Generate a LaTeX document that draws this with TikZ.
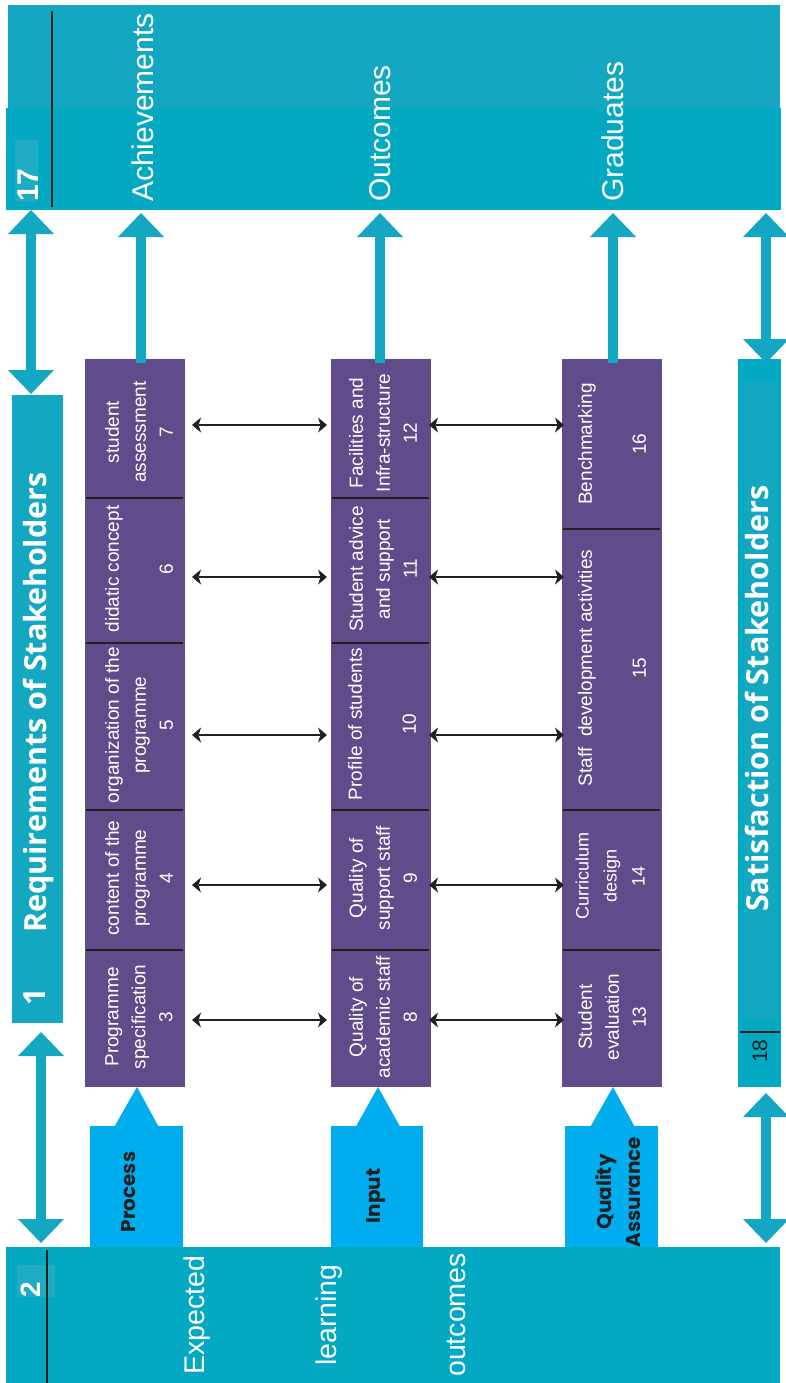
\documentclass[tikz,border=0pt]{standalone}
\usepackage{fontspec}
\setmainfont{Liberation Sans}
\newfontfamily\osans{Open Sans}
\newfontfamily\popp{Poppins}
\usetikzlibrary{arrows.meta,calc}
\definecolor{tealA}{HTML}{14A7C1}
\definecolor{tealB}{HTML}{03A9C3}
\definecolor{tealL}{HTML}{1FABC3}
\definecolor{cyanL}{HTML}{00AEEF}
\definecolor{purp}{HTML}{604C8A}
\definecolor{ink}{HTML}{231F20}
\tikzset{
  fat/.tip={Triangle[width=46pt 0 0,length=24pt 0 0,line width=0pt 0 0]},
  thn/.tip={Stealth[length=9pt 0 0,width=15pt 0 0,inset=2.5pt 0 0,line width=0pt 0 0]},
  bar/.style={rectangle, inner sep=0pt, outer sep=0pt, anchor=north west, draw=none},
  cell/.style={bar, fill=purp, minimum width=100pt},
  celltext/.style={rotate=90, align=center, text=white, inner sep=0pt, font=\fontsize{19}{27}\selectfont},
  bigtxt/.style={rotate=90, anchor=base west, inner sep=0pt, text=white, font=\fontsize{30}{36}\selectfont},
  elotxt/.style={rotate=90, anchor=base, inner sep=0pt, text=white, font=\fontsize{28.5}{34}\selectfont},
  stktxt/.style={rotate=90, anchor=base west, inner sep=0pt, text=white, font=\osans\bfseries\fontsize{30.5}{36}\selectfont},
  lbltxt/.style={rotate=90, inner sep=0pt, text=ink, align=center, font=\popp\bfseries\fontsize{20}{29}\selectfont},
  fatup/.style={draw=tealA, line width=10pt, -fat},
  fatdbl/.style={draw=tealA, line width=10pt, fat-fat},
  thinarr/.style={draw=ink, line width=1.6pt, thn-thn},
  divider/.style={draw=ink, line width=1.3pt},
  sepline/.style={draw=ink, line width=1.5pt},
}
\begin{document}
\begin{tikzpicture}[x=1pt,y=-1pt]
\useasboundingbox (0,0) rectangle (785,1383);
\fill[white] (0,0) rectangle (785,1383);

% ---------- top bar ----------
\node[bar, fill=tealA, minimum width=772pt, minimum height=104pt] (topA) at (8,5) {};
\node[bar, fill=tealB, minimum width=775pt, minimum height=102pt] (top) at (6,108) {};
\fill[tealL] (15,140) rectangle (38,202);
\draw[sepline] (52,11) -- (52,207);
\node[bigtxt, font=\bfseries\fontsize{30}{36}\selectfont] (n17) at (38,202) {17};
\node[bigtxt] (ach) at (153,202) {Achievements};
\node[bigtxt] (outc) at (390,202) {Outcomes};
\node[bigtxt] (grad) at (623,202) {Graduates};

% ---------- requirements bar ----------
\node[bar, fill=tealA, minimum width=51pt, minimum height=628pt] (req) at (12,395) {};
\node[stktxt] (reqt) at (46,933) {Requirements of Stakeholders};
\node[stktxt] (n1) at (45,1006) {1};

% ---------- satisfaction bar ----------
\node[bar, fill=tealB, minimum width=43pt, minimum height=728pt] (sat) at (738,359) {};
\node[bar, fill=tealA, minimum width=33pt, minimum height=638pt] (satin) at (744,382) {};
\draw[divider] (740,1032) -- (780,1032);
\node[stktxt] (satt) at (768,912) {Satisfaction of Stakeholders};
\node[rotate=90, anchor=base west, inner sep=0pt, text=ink, font=\fontsize{21}{24}\selectfont] (n18) at (767,1063) {18};

% ---------- bottom bar ----------
\node[bar, fill=tealB, minimum width=774pt, minimum height=136pt] (bot) at (6,1247) {};
\fill[tealL] (17,1265) rectangle (55,1297);
\draw[sepline] (47,1250) -- (47,1383);
\node[bigtxt, font=\bfseries\fontsize{28}{32}\selectfont] (n2) at (40,1298) {2};
\node[elotxt] (elo1) at (204,1315) {Expected};
\node[elotxt] (elo2) at (336,1315) {learning};
\node[elotxt] (elo3) at (465,1315) {outcomes};

% ---------- purple cells ----------
\node[cell, minimum height=139pt] (c7) at (85,359) {};
\node[cell, minimum height=145pt] (c6) at (85,498) {};
\node[cell, minimum height=167pt] (c5) at (85,643) {};
\node[cell, minimum height=140pt] (c4) at (85,810) {};
\node[cell, minimum height=137pt] (c3) at (85,950) {};
\node[cell, minimum height=139pt] (c12) at (331,359) {};
\node[cell, minimum height=145pt] (c11) at (331,498) {};
\node[cell, minimum height=167pt] (c10) at (331,643) {};
\node[cell, minimum height=140pt] (c9) at (331,810) {};
\node[cell, minimum height=137pt] (c8) at (331,950) {};
\node[cell, minimum height=170pt] (c16) at (562,359) {};
\node[cell, minimum height=281pt] (c15) at (562,529) {};
\node[cell, minimum height=140pt] (c14) at (562,810) {};
\node[cell, minimum height=137pt] (c13) at (562,950) {};

\foreach \c in {c7,c6,c5,c4,c12,c11,c10,c9,c16,c15,c14}
  \draw[divider] ([xshift=1pt]\c.south west) -- ([xshift=-2pt]\c.south east);

\node[celltext] (t7) at (139,432) {student\\assessment\\7};
\node[celltext] (t6) at (139,569) {didatic concept\\[27pt]6};
\node[celltext] (t5) at (139,725) {organization of the\\programme\\5};
\node[celltext] (t4) at (139,878) {content of the\\programme\\4};
\node[celltext] (t3) at (139,1017) {Programme\\specification\\3};
\node[celltext] (t12) at (383,433) {Facilities and\\Infra-structure\\12};
\node[celltext] (t11) at (383,569) {Student advice\\and support\\11};
\node[celltext] (t10) at (382,724) {Profile of students\\[27pt]10};
\node[celltext] (t9) at (383,878) {Quality of\\support staff\\9};
\node[celltext] (t8) at (383,1017) {Quality of\\academic staff\\8};
\node[celltext] (t16) at (612,444) {Benchmarking\\[27pt]16};
\node[celltext] (t15) at (612,668) {Staff~ development activities\\[27pt]15};
\node[celltext, font=\fontsize{18}{28}\selectfont] (t14) at (610,876) {Curriculum\\design\\14};
\node[celltext] (t13) at (612,1017) {Student\\evaluation\\13};

% ---------- label boxes ----------
\node[bar, fill=cyanL, minimum width=93pt, minimum height=121pt] (proc) at (90,1126) {};
\node[bar, fill=cyanL, minimum width=92pt, minimum height=121pt] (inp) at (331,1126) {};
\node[bar, fill=cyanL, minimum width=93pt, minimum height=121pt] (qa) at (565,1126) {};
\fill[cyanL] ($(proc.north)+(-22,0.5)$) -- ($(proc.north |- c3.south)+(0.5,0)$) -- ($(proc.north)+(22,0.5)$) -- cycle;
\fill[cyanL] ($(inp.north)+(-21,0.5)$) -- ($(inp.north |- c8.south)+(1,0)$) -- ($(inp.north)+(23,0.5)$) -- cycle;
\fill[cyanL] ($(qa.north)+(-21,0.5)$) -- ($(qa.north |- c13.south)+(1.5,0)$) -- ($(qa.north)+(23,0.5)$) -- cycle;
\node[lbltxt, anchor=base] (proct) at (135,1192) {Process};
\node[lbltxt, anchor=base] (inpt) at (380,1196) {Input};
\node[lbltxt] (qat) at (618,1192) {Quality\\Assurance};

% ---------- thin double arrows ----------
\coordinate (r1) at (0,425);
\coordinate (r2) at (0,577);
\coordinate (r3) at (0,735);
\coordinate (r4) at (0,885);
\coordinate (r5) at (0,1020);
\draw[thinarr] ($(c7.east |- r1)+(7,0)$) -- ($(c12.west |- r1)+(-4,0)$);
\draw[thinarr] ($(c6.east |- r2)+(7,0)$) -- ($(c11.west |- r2)+(-4,0)$);
\draw[thinarr] ($(c5.east |- r3)+(7,0)$) -- ($(c10.west |- r3)+(-4,0)$);
\draw[thinarr] ($(c4.east |- r4)+(7,0)$) -- ($(c9.west |- r4)+(-4,0)$);
\draw[thinarr] ($(c3.east |- r5)+(7,0)$) -- ($(c8.west |- r5)+(-4,0)$);
\draw[thinarr] ($(c12.east |- r1)+(-2,0)$) -- ($(c16.west |- r1)+(2,0)$);
\draw[thinarr] ($(c11.east |- r2)+(-2,0)$) -- ($(c15.west |- r2)+(2,0)$);
\draw[thinarr] ($(c10.east |- r3)+(-2,0)$) -- ($(c15.west |- r3)+(2,0)$);
\draw[thinarr] ($(c9.east |- r4)+(-2,0)$) -- ($(c14.west |- r4)+(2,0)$);
\draw[thinarr] ($(c8.east |- r5)+(-2,0)$) -- ($(c13.west |- r5)+(2,0)$);

% ---------- fat cyan arrows ----------
\coordinate (u1s) at (141,363); \coordinate (u1e) at (141,213);
\coordinate (u2s) at (380,363); \coordinate (u2e) at (380,213);
\coordinate (u3s) at (613,363); \coordinate (u3e) at (613,213);
\draw[fatup] (u1s) -- (u1e);
\draw[fatup] (u2s) -- (u2e);
\draw[fatup] (u3s) -- (u3e);
\coordinate (lt1) at (31,210); \coordinate (lt2) at (31,394);
\coordinate (lb1) at (41,1032); \coordinate (lb2) at (41,1243);
\coordinate (rt1) at (766,213); \coordinate (rt2) at (766,363);
\coordinate (rb1) at (766,1093); \coordinate (rb2) at (766,1243);
\draw[fatdbl] (lt1) -- (lt2);
\draw[fatdbl] (lb1) -- (lb2);
\draw[fatdbl] (rt1) -- (rt2);
\draw[fatdbl] (rb1) -- (rb2);
\end{tikzpicture}
\end{document}
